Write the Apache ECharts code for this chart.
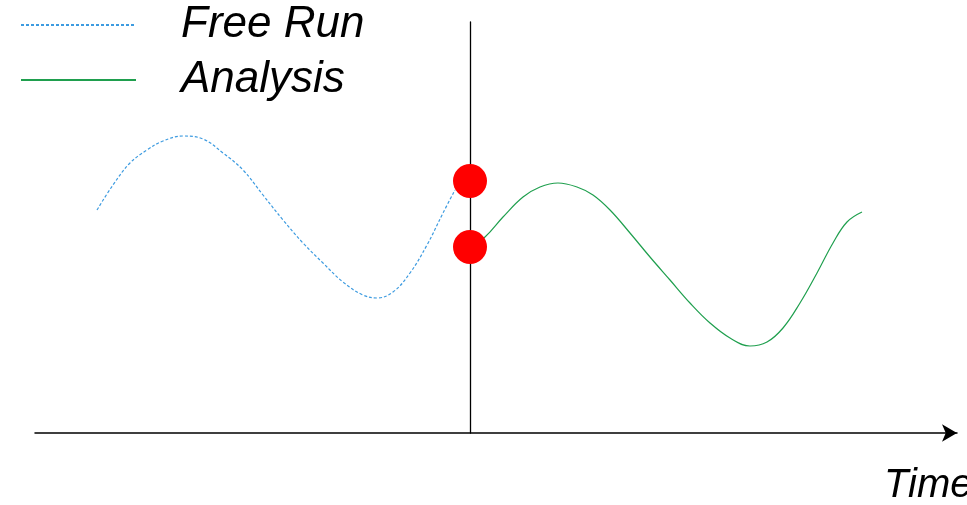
<!DOCTYPE html>
<html>
<head>
<meta charset="utf-8">
<script src="https://cdn.jsdelivr.net/npm/echarts@6/dist/echarts.min.js"></script>
<style>html,body{margin:0;padding:0;background:#fff;}#c{width:967px;height:505px;}</style>
</head>
<body>
<div id="c"></div>
<script>
// Free Run curve (before the analysis point), [time, value]
var freeRunData = [
  [-3.73,2.23],[-3.57,2.48],[-3.40,2.70],[-3.23,2.83],[-3.07,2.92],[-2.87,2.97],
  [-2.67,2.94],[-2.47,2.80],[-2.27,2.63],[-2.07,2.38],[-1.87,2.13],[-1.67,1.90],
  [-1.47,1.70],[-1.27,1.51],[-1.07,1.38],[-0.93,1.35],[-0.77,1.41],[-0.60,1.60],
  [-0.43,1.88],[-0.27,2.20],[-0.15,2.43]
];
// Analysis curve (after the analysis point)
var analysisData = [
  [0,1.86],[0.15,1.96],[0.33,2.16],[0.53,2.36],[0.70,2.46],[0.88,2.50],[1.07,2.46],
  [1.23,2.38],[1.40,2.23],[1.60,2.00],[1.80,1.76],[2.00,1.53],[2.20,1.30],[2.40,1.10],
  [2.60,0.95],[2.80,0.87],[2.97,0.91],[3.13,1.05],[3.30,1.30],[3.47,1.60],[3.63,1.90],
  [3.77,2.11],[3.92,2.21]
];
// Red markers at the analysis time
var markerData = [[0,2.52],[0,1.86]];
var seriesNames = ['Free Run','Analysis'];
var axisName = 'Time';

var chart = echarts.init(document.getElementById('c'));
var font = '"Liberation Sans", Arial, sans-serif';
chart.setOption({
  animation: false,
  backgroundColor: '#fff',
  title: {
    text: axisName, left: 884, top: 466, padding: 0,
    textStyle: {fontSize: 40, fontStyle: 'italic', fontWeight: 'normal', color: '#000', fontFamily: font, lineHeight: 40}
  },
  legend: {
    data: seriesNames, orient: 'vertical', left: 20, top: 3, padding: 0,
    itemWidth: 115, itemHeight: 44, itemGap: 11,
    itemStyle: {opacity: 0},
    textStyle: {fontSize: 44, fontStyle: 'italic', color: '#000', fontFamily: font, lineHeight: 44, padding: [0,0,0,40]}
  },
  grid: {left: 35, right: 10, top: 22, bottom: 72},
  xAxis: {
    type: 'value', min: -4.35, max: 4.87,
    axisLine: {show: true, onZero: true, symbol: ['none','arrow'], symbolSize: [13,15], lineStyle: {color: '#000', width: 1.5}},
    axisTick: {show: false}, axisLabel: {show: false}, splitLine: {show: false}
  },
  yAxis: {
    type: 'value', min: 0, max: 4.11,
    axisLine: {show: true, onZero: true, lineStyle: {color: '#000', width: 1.3}},
    axisTick: {show: false}, axisLabel: {show: false}, splitLine: {show: false}
  },
  series: [
    {name: seriesNames[0], type: 'line', data: freeRunData, smooth: 0.4, symbol: 'none',
     lineStyle: {color: '#3d9be0', width: 1.2, type: [3,2]}, itemStyle: {color: '#3d9be0'}, z: 2},
    {name: seriesNames[1], type: 'line', data: analysisData, smooth: 0.4, symbol: 'none',
     lineStyle: {color: '#1f9f4e', width: 1.2, type: 'solid'}, itemStyle: {color: '#1f9f4e'}, z: 2},
    {name: 'marker', type: 'scatter', data: markerData, symbol: 'circle', symbolSize: 34,
     itemStyle: {color: '#ff0000', opacity: 1}, z: 5}
  ]
});
</script>
</body>
</html>
